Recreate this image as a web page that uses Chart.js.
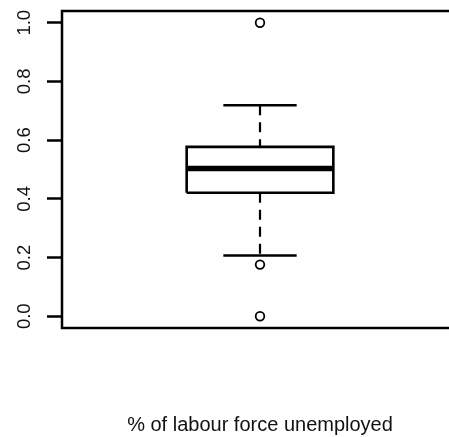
<!DOCTYPE html>
<html>
<head>
<meta charset="utf-8">
<script src="https://cdn.jsdelivr.net/npm/chart.js@4"></script>
<style>
  html, body { margin: 0; padding: 0; background: #fff; overflow: hidden; }
  #wrap { width: 449px; height: 437px; overflow: hidden; }
</style>
</head>
<body>
<div id="wrap"><canvas id="chart" width="470" height="437"></canvas></div>
<script>
// -------------------
// DATA
// -------------------
const categories = ["% of labour force unemployed"];
const boxPos     = [1];
const lowerWhisk = [0.207];
const q1         = [0.421];
const median     = [0.503];
const q3         = [0.577];
const upperWhisk = [0.719];
const outliers   = [1.0, 0.176, 0.0];
const yTicks     = [0, 0.2, 0.4, 0.6, 0.8, 1.0];
const yTickLabels = ["0.0", "0.2", "0.4", "0.6", "0.8", "1.0"];

const HALF = 0.2;   // half box width (R boxwex 0.8)
const CAP  = 0.1;   // half whisker cap width

const c = boxPos[0];

// -------------------
// DATASETS
// -------------------
const boxData = [
  { x: c - HALF, y: q1[0] }, { x: c + HALF, y: q1[0] },
  { x: c + HALF, y: q3[0] }, { x: c - HALF, y: q3[0] },
  { x: c - HALF, y: q1[0] }
];
const medData = [{ x: c - HALF, y: median[0] }, { x: c + HALF, y: median[0] }];
const upData  = [{ x: c, y: upperWhisk[0] }, { x: c, y: q3[0] }];
const lowData = [{ x: c, y: q1[0] }, { x: c, y: lowerWhisk[0] }];
const capData = [
  { x: c - CAP, y: upperWhisk[0] }, { x: c + CAP, y: upperWhisk[0] },
  { x: c, y: null },
  { x: c - CAP, y: lowerWhisk[0] }, { x: c + CAP, y: lowerWhisk[0] }
];
const outData = outliers.map(v => ({ x: c, y: v }));

const lineDs = (data, w, extra) => Object.assign({
  type: "line", data, borderColor: "#000", borderWidth: w,
  pointRadius: 0, fill: false, tension: 0, spanGaps: false
}, extra || {});

// -------------------
// PLUGIN: frame + rotated y labels
// -------------------
const rStyle = {
  id: "rStyle",
  afterDraw(chart) {
    const { ctx, chartArea: a } = chart;
    const ys = chart.scales.y;
    ctx.save();
    ctx.strokeStyle = "#000";
    ctx.lineWidth = 2.5;
    ctx.strokeRect(a.left, a.top, a.right - a.left, a.bottom - a.top);
    ctx.fillStyle = "#111";
    ctx.font = "18.5px 'Liberation Sans', Arial, sans-serif";
    ctx.textAlign = "center";
    ctx.textBaseline = "alphabetic";
    yTicks.forEach((v, i) => {
      ctx.save();
      ctx.translate(29.5, ys.getPixelForValue(v));
      ctx.rotate(-Math.PI / 2);
      ctx.fillText(yTickLabels[i], 0, 0);
      ctx.restore();
    });
    ctx.restore();
  }
};

new Chart(document.getElementById("chart"), {
  type: "line",
  data: {
    datasets: [
      lineDs(lowData, 2.2, { borderDash: [10, 7] }),
      lineDs(upData, 2.2, { borderDash: [10, 7] }),
      lineDs(capData, 2.4),
      lineDs(boxData, 2.6, { borderJoinStyle: "miter" }),
      lineDs(medData, 5.5),
      {
        type: "scatter", data: outData, showLine: false,
        pointRadius: 4.3, pointBorderWidth: 1.8,
        pointBorderColor: "#000", pointBackgroundColor: "#fff"
      }
    ]
  },
  options: {
    responsive: false,
    animation: false,
    layout: { padding: { left: 0, top: 11, right: 12, bottom: 0 } },
    plugins: { legend: { display: false }, tooltip: { enabled: false } },
    scales: {
      x: {
        type: "linear", min: 0.46, max: 1.54,
        grid: { display: false },
        border: { display: false },
        ticks: { display: false },
        title: {
          display: true, text: categories[0], color: "#111",
          font: { family: "'Liberation Sans', Arial, sans-serif", size: 20 },
          padding: { top: 0, bottom: 0 }
        },
        afterFit(s) { s.height = 109; }
      },
      y: {
        min: -0.04, max: 1.04,
        afterBuildTicks(s) { s.ticks = yTicks.map(v => ({ value: v })); },
        grid: {
          drawOnChartArea: false, drawTicks: true,
          tickLength: 15, tickWidth: 2.5, tickColor: "#000"
        },
        border: { display: false },
        ticks: { display: false },
        afterFit(s) { s.width = 62; }
      }
    }
  },
  plugins: [rStyle]
});
</script>
</body>
</html>
